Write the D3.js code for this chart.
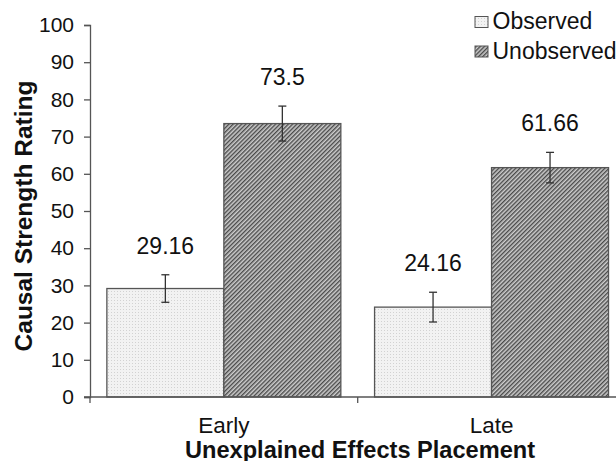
<!DOCTYPE html>
<html>
<head>
<meta charset="utf-8">
<script src="https://cdn.jsdelivr.net/npm/d3@7"></script>
<style>
  body { margin: 0; background: #fff; overflow: hidden; }
  text { font-family: "Liberation Sans", Arial, Helvetica, sans-serif; fill: #111; }
</style>
</head>
<body>
<div id="chart"></div>
<script>
// data
const placements = ["Early", "Late"];
const conditions = ["Observed", "Unobserved"];
const observedMeans = [29.16, 24.16];
const unobservedMeans = [73.5, 61.66];
const observedErr = [3.7, 4.0];
const unobservedErr = [4.7, 4.1];
const yTicks = [0, 10, 20, 30, 40, 50, 60, 70, 80, 90, 100];

const width = 616, height = 461;

const svg = d3.select("#chart").append("svg")
  .attr("width", width)
  .attr("height", height);

const defs = svg.append("defs");

// fine stipple for observed bars
const dots = defs.append("pattern")
  .attr("id", "dots")
  .attr("width", 3).attr("height", 3)
  .attr("patternUnits", "userSpaceOnUse");
dots.append("rect").attr("width", 3).attr("height", 3).attr("fill", "#f2f2f2");
dots.append("rect").attr("width", 1).attr("height", 1).attr("fill", "#d2d2d2");

// dense diagonal hatching for unobserved bars
const hatch = defs.append("pattern")
  .attr("id", "hatch")
  .attr("width", 3).attr("height", 3)
  .attr("patternUnits", "userSpaceOnUse")
  .attr("patternTransform", "rotate(45)");
hatch.append("rect").attr("width", 3).attr("height", 3).attr("fill", "#cdcdcd");
hatch.append("rect").attr("width", 1.4).attr("height", 3).attr("fill", "#4a4a4a");

const fills = { Observed: "url(#dots)", Unobserved: "url(#hatch)" };

const y = d3.scaleLinear().domain([0, 100]).range([397, 25]);

const x0 = d3.scaleBand()
  .domain(placements)
  .range([90, 625.4])
  .paddingInner(0.126)
  .paddingOuter(0.063);

const x1 = d3.scaleBand()
  .domain(conditions)
  .range([0, x0.bandwidth()]);

const rows = [];
placements.forEach((p, i) => {
  rows.push({ placement: p, cond: "Observed", mean: observedMeans[i], err: observedErr[i] });
  rows.push({ placement: p, cond: "Unobserved", mean: unobservedMeans[i], err: unobservedErr[i] });
});

// y axis
const yAxis = svg.append("g")
  .attr("transform", "translate(90,0)")
  .call(d3.axisLeft(y).tickValues(yTicks).tickSize(6).tickPadding(10));
yAxis.select(".domain").attr("stroke", "#555").attr("stroke-width", 1.3);
yAxis.selectAll(".tick line").attr("stroke", "#555").attr("stroke-width", 1.3);
yAxis.selectAll(".tick text")
  .attr("font-size", 21)
  .attr("fill", "#111")
  .style("font-family", "'Liberation Sans', Arial, sans-serif");

// bars
const bars = svg.append("g");
bars.selectAll("rect")
  .data(rows)
  .join("rect")
  .attr("x", d => x0(d.placement) + x1(d.cond))
  .attr("y", d => y(d.mean))
  .attr("width", x1.bandwidth())
  .attr("height", d => y(0) - y(d.mean))
  .attr("fill", d => fills[d.cond])
  .attr("stroke", "#555")
  .attr("stroke-width", 1.3);

// x axis (category ticks sit between groups)
const xAxis = svg.append("g").attr("transform", "translate(0,397)");
xAxis.append("line")
  .attr("x1", 84).attr("x2", width)
  .attr("stroke", "#555").attr("stroke-width", 1.3);
xAxis.selectAll("line.tk")
  .data(d3.range(placements.length + 1))
  .join("line")
  .attr("class", "tk")
  .attr("x1", i => x0.range()[0] + i * x0.step())
  .attr("x2", i => x0.range()[0] + i * x0.step())
  .attr("y1", 0).attr("y2", 6)
  .attr("stroke", "#555").attr("stroke-width", 1.3);
xAxis.selectAll("text")
  .data(placements)
  .join("text")
  .attr("x", d => x0(d) + x0.bandwidth() / 2)
  .attr("y", 36)
  .attr("text-anchor", "middle")
  .attr("font-size", 22.5)
  .text(d => d);

// error bars
const eb = svg.append("g").attr("stroke", "#333").attr("stroke-width", 1.3);
rows.forEach(d => {
  const cx = x0(d.placement) + x1(d.cond) + x1.bandwidth() / 2;
  const top = y(d.mean + d.err), bot = y(d.mean - d.err);
  eb.append("line").attr("x1", cx).attr("x2", cx).attr("y1", top).attr("y2", bot);
  eb.append("line").attr("x1", cx - 4).attr("x2", cx + 4).attr("y1", top).attr("y2", top);
  eb.append("line").attr("x1", cx - 4).attr("x2", cx + 4).attr("y1", bot).attr("y2", bot);
});

// value labels
svg.append("g").selectAll("text")
  .data(rows)
  .join("text")
  .attr("x", d => x0(d.placement) + x1(d.cond) + x1.bandwidth() / 2)
  .attr("y", d => y(d.mean + d.err) - 21)
  .attr("text-anchor", "middle")
  .attr("font-size", 23)
  .text(d => d.mean);

// axis titles
svg.append("text")
  .attr("transform", "translate(32,216) rotate(-90)")
  .attr("text-anchor", "middle")
  .attr("font-size", 24.5)
  .attr("font-weight", "bold")
  .text("Causal Strength Rating");

svg.append("text")
  .attr("x", 185)
  .attr("y", 457.5)
  .attr("font-size", 23.6)
  .attr("font-weight", "bold")
  .text("Unexplained Effects Placement");

// legend
const legend = svg.append("g").attr("transform", "translate(475,0)");
const item = legend.selectAll("g")
  .data(conditions)
  .join("g")
  .attr("transform", (d, i) => `translate(0,${i * 29.5})`);
item.append("rect")
  .attr("x", 0).attr("y", 16.5)
  .attr("width", 13).attr("height", 11)
  .attr("fill", d => fills[d])
  .attr("stroke", "#555").attr("stroke-width", 1);
item.append("text")
  .attr("x", 17.5).attr("y", 29.3)
  .attr("font-size", 23)
  .text(d => d);
</script>
</body>
</html>
